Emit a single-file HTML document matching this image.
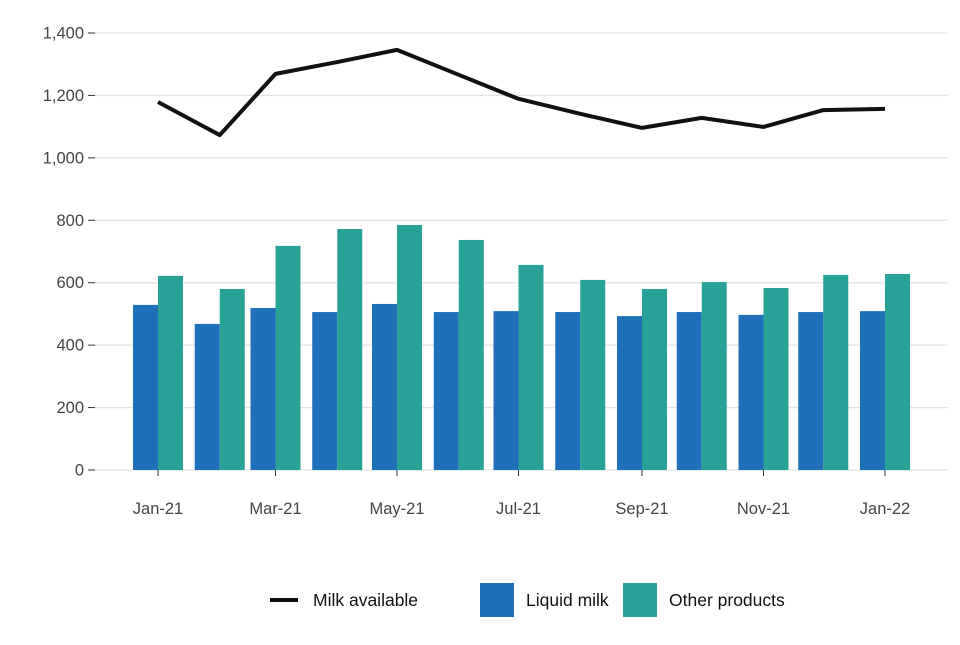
<!DOCTYPE html>
<html><head><meta charset="utf-8"><style>
body{margin:0;background:#fff;font-family:"Liberation Sans",sans-serif}
svg text{font-family:"Liberation Sans",sans-serif}
</style></head><body>
<svg id="c" width="960" height="640"></svg>
<script>
const months=["2021-01","2021-02","2021-03","2021-04","2021-05","2021-06","2021-07","2021-08","2021-09","2021-10","2021-11","2021-12","2022-01"];
const milkAvailable=[1179,1073,1269,1307,1346,1266,1189,1141,1096,1128,1099,1153,1157];
const liquidMilk=[529,468,519,506,532,506,509,506,493,506,497,506,509];
const otherProducts=[622,580,718,772,785,737,657,609,580,602,583,625,628];
const yTicks=[0,200,400,600,800,1000,1200,1400];
const xTickLabels=["Jan-21","Mar-21","May-21","Jul-21","Sep-21","Nov-21","Jan-22"];
const xTickIdx=[0,2,4,6,8,10,12];

const svg=document.getElementById('c');const NS="http://www.w3.org/2000/svg";
function el(t,a,p){const e=document.createElementNS(NS,t);for(const k in a)e.setAttribute(k,a[k]);(p||svg).appendChild(e);return e;}
const t0=Date.UTC(2021,0,1);
function dayOf(m){const [y,mo]=m.split('-').map(Number);return (Date.UTC(y,mo-1,1)-t0)/86400000;}
const x=m=>158+dayOf(m)*727/365;
const y=v=>470-v*437/1400;

const grid=el('g',{});


yTicks.forEach(v=>{
  el('line',{x1:95,x2:948,y1:y(v),y2:y(v),stroke:'#e3e3e3','stroke-width':1.3},grid);
  el('line',{x1:88,x2:95,y1:y(v),y2:y(v),stroke:'#333','stroke-width':1},grid);
  const t=el('text',{x:84,y:y(v)+5.5,'text-anchor':'end','font-size':16.5,fill:'#444'});
  t.textContent=v.toLocaleString('en-US');
  
  
});
xTickIdx.forEach((i,k)=>{
  const xx=x(months[i]);
  el('line',{x1:xx,x2:xx,y1:470,y2:476,stroke:'#333','stroke-width':1});
  const t=el('text',{x:xx,y:514,'text-anchor':'middle','font-size':16.5,fill:'#444'});
  t.textContent=xTickLabels[k];
  
  
});
const bw=25;
months.forEach((m,i)=>{
  const cx=x(m);
  const b1=el('rect',{x:cx-bw,y:y(liquidMilk[i]),width:bw,height:470-y(liquidMilk[i]),fill:'#1f6fba'});
  
  
  const b2=el('rect',{x:cx,y:y(otherProducts[i]),width:bw,height:470-y(otherProducts[i]),fill:'#28a197'});
  
  
});
const ln=el('polyline',{points:months.map((m,i)=>x(m)+','+y(milkAvailable[i])).join(' '),fill:'none',stroke:'#111','stroke-width':4,'stroke-linejoin':'round'});



const lg=el('g',{});


el('line',{x1:270,x2:298,y1:600,y2:600,stroke:'#111','stroke-width':4},lg);
let t=el('text',{x:313,y:606,'font-size':17.5,fill:'#111'},lg);t.textContent='Milk available';
el('rect',{x:480,y:583,width:34,height:34,fill:'#1f6fba'},lg);
t=el('text',{x:526,y:606,'font-size':17.5,fill:'#111'},lg);t.textContent='Liquid milk';
el('rect',{x:623,y:583,width:34,height:34,fill:'#28a197'},lg);
t=el('text',{x:669,y:606,'font-size':17.5,fill:'#111'},lg);t.textContent='Other products';
</script>
</body></html>
